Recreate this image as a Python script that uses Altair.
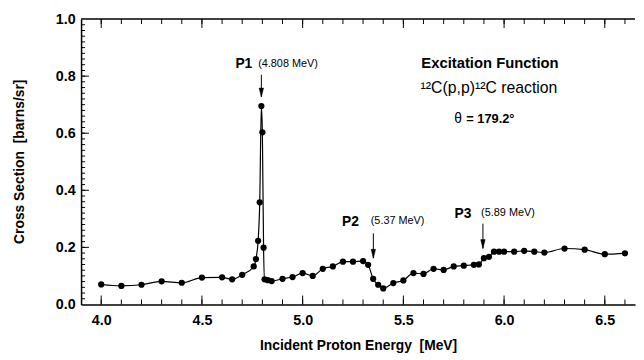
import altair as alt
import pandas as pd

FONT = "Liberation Sans"

# ---- data ----
energy = [4.00, 4.10, 4.20, 4.30, 4.40, 4.50, 4.60, 4.65, 4.70, 4.757,
          4.768, 4.779, 4.787, 4.795, 4.800, 4.806, 4.811, 4.827, 4.846, 4.90,
          4.95, 5.00, 5.05, 5.10, 5.15, 5.20, 5.25, 5.30, 5.325, 5.35,
          5.375, 5.40, 5.45, 5.50, 5.55, 5.60, 5.65, 5.70, 5.75, 5.80,
          5.85, 5.875, 5.90, 5.925, 5.95, 5.975, 6.00, 6.05, 6.10, 6.15,
          6.20, 6.30, 6.40, 6.50, 6.60]
cross = [0.070, 0.065, 0.069, 0.081, 0.076, 0.094, 0.095, 0.088, 0.104, 0.133,
         0.159, 0.223, 0.358, 0.695, 0.603, 0.199, 0.088, 0.085, 0.082, 0.090,
         0.096, 0.110, 0.100, 0.125, 0.133, 0.150, 0.150, 0.152, 0.139, 0.090,
         0.069, 0.056, 0.075, 0.084, 0.110, 0.107, 0.125, 0.121, 0.133, 0.136,
         0.139, 0.140, 0.162, 0.167, 0.185, 0.185, 0.185, 0.185, 0.188, 0.185,
         0.182, 0.196, 0.192, 0.176, 0.179]

x_label_values = [4.0, 4.5, 5.0, 5.5, 6.0, 6.5]
y_label_values = [0.0, 0.2, 0.4, 0.6, 0.8, 1.0]
x_minor_ticks = [round(4.0 + 0.1 * i, 2) for i in range(27)]
x_major_ticks = [4.0, 4.5, 5.0, 5.5, 6.0, 6.5]
y_minor_ticks = [round(0.02 * i, 2) for i in range(1, 50)]
y_major_ticks = [0.2, 0.4, 0.6, 0.8]

peak_names = ["P1", "P2", "P3"]
peak_notes = ["(4.808 MeV)", "(5.37 MeV)", "(5.89 MeV)"]
arrow_x = [4.795, 5.351, 5.895]
arrow_top = [0.805, 0.249, 0.283]
arrow_tip = [0.727, 0.162, 0.196]
name_x = [4.750, 5.279, 5.838]
name_y = [0.842, 0.287, 0.317]
note_x = [4.779, 5.338, 5.886]
note_y = [0.844, 0.291, 0.321]

title_lines = ["Excitation Function", "\u00b9\u00b2C(p,p)\u00b9\u00b2C reaction"]
title_x = [5.930, 5.925]
title_y = [0.845, 0.760]
theta_sym = "\u03b8"
theta_val = "= 179.2\u00b0"
theta_x = [5.772, 5.812]
theta_y = 0.649

W, H = 561, 289
xs = alt.Scale(domain=[3.9, 6.65], nice=False, zero=False)
ys = alt.Scale(domain=[0, 1], nice=False, zero=False)

df = pd.DataFrame({"energy": energy, "cs": cross})

x_axis = alt.Axis(values=x_label_values, format=".1f", ticks=False, tickSize=0, grid=False,
                  domainColor="black", domainWidth=1.5,
                  labelFont=FONT, labelFontSize=14.5, labelFontWeight="bold", labelColor="black",
                  labelPadding=9, labelFlush=False,
                  title="Incident Proton Energy\u00a0\u00a0[MeV]", titleFont=FONT, titleFontSize=14,
                  titleFontWeight="bold", titleColor="black", titleY=42, titleBaseline="middle")
y_axis = alt.Axis(values=y_label_values, format=".1f", ticks=False, tickSize=0, grid=False,
                  domainColor="black", domainWidth=1.5,
                  labelFont=FONT, labelFontSize=14.5, labelFontWeight="bold", labelColor="black",
                  labelPadding=6, labelFlush=False,
                  title="Cross Section\u00a0\u00a0[barns/sr]", titleFont=FONT, titleFontSize=14,
                  titleFontWeight="bold", titleColor="black", titleX=-62, titleY=144,
                  titleBaseline="middle")

line = alt.Chart(df).mark_line(color="black", strokeWidth=1.2, interpolate="monotone").encode(
    x=alt.X("energy:Q", scale=xs, axis=x_axis),
    y=alt.Y("cs:Q", scale=ys, axis=y_axis),
)
points = alt.Chart(df).mark_circle(color="black", size=40, opacity=1).encode(
    x=alt.X("energy:Q"),
    y=alt.Y("cs:Q"),
)

# inward ticks
def xticks(vals, length, top):
    d = pd.DataFrame({"v": vals})
    if top:
        yy, yy2 = alt.value(0), alt.value(length)
    else:
        yy, yy2 = alt.value(H), alt.value(H - length)
    return alt.Chart(d).mark_rule(color="black", strokeWidth=1).encode(
        x=alt.X("v:Q"), y=yy, y2=yy2)

def yticks(vals, length):
    d = pd.DataFrame({"v": vals})
    return alt.Chart(d).mark_rule(color="black", strokeWidth=1).encode(
        y=alt.Y("v:Q"), x=alt.value(0), x2=alt.value(length))

top_frame = alt.Chart(pd.DataFrame({"a": [0]})).mark_rule(color="black", strokeWidth=1.5).encode(
    x=alt.value(0), x2=alt.value(W), y=alt.value(0))

ticks = [xticks(x_minor_ticks, 5, False), xticks(x_major_ticks, 9, False),
         xticks(x_minor_ticks, 5, True), xticks(x_major_ticks, 9, True),
         yticks(y_minor_ticks, 4), yticks(y_major_ticks, 8)]

adf = pd.DataFrame({"name": peak_names, "note": peak_notes, "ax": arrow_x, "top": arrow_top,
                    "tip": arrow_tip, "nx": name_x, "ny": name_y, "tx": note_x, "ty": note_y})

arrow_lines = alt.Chart(adf).mark_rule(color="black", strokeWidth=1).encode(
    x=alt.X("ax:Q"), y=alt.Y("top:Q"), y2="tip:Q")
arrow_heads = alt.Chart(adf).mark_point(shape="M-0.5,-1L0.5,-1L0,1Z", filled=True, fill="black",
                                        stroke="black", strokeWidth=0.5, opacity=1, size=81,
                                        yOffset=-4.5).encode(
    x=alt.X("ax:Q"), y=alt.Y("tip:Q"))
names = alt.Chart(adf).mark_text(align="right", baseline="middle", font=FONT, fontSize=14,
                                 fontWeight="bold", color="black").encode(
    x=alt.X("nx:Q"), y=alt.Y("ny:Q"), text="name:N")
notes = alt.Chart(adf).mark_text(align="left", baseline="middle", font=FONT, fontSize=11,
                                 color="black").encode(
    x=alt.X("tx:Q"), y=alt.Y("ty:Q"), text="note:N")

tdf = pd.DataFrame({"t": title_lines, "x": title_x, "y": title_y})
title1 = alt.Chart(tdf.iloc[[0]]).mark_text(align="center", baseline="middle", font=FONT,
                                            fontSize=15, fontWeight="bold", color="black").encode(
    x=alt.X("x:Q"), y=alt.Y("y:Q"), text="t:N")
title2 = alt.Chart(tdf.iloc[[1]]).mark_text(align="center", baseline="middle", font=FONT,
                                            fontSize=16, color="black").encode(
    x=alt.X("x:Q"), y=alt.Y("y:Q"), text="t:N")

thdf = pd.DataFrame({"t": [theta_sym, theta_val], "x": theta_x, "y": [theta_y, theta_y]})
theta1 = alt.Chart(thdf.iloc[[0]]).mark_text(align="center", baseline="middle", font=FONT,
                                             fontSize=14, color="black").encode(
    x=alt.X("x:Q"), y=alt.Y("y:Q"), text="t:N")
theta2 = alt.Chart(thdf.iloc[[1]]).mark_text(align="left", baseline="middle", font=FONT,
                                             fontSize=13, fontWeight="bold", color="black").encode(
    x=alt.X("x:Q"), y=alt.Y("y:Q"), text="t:N")

chart = alt.layer(line, points, top_frame, *ticks, arrow_lines, arrow_heads, names, notes,
                  title1, title2, theta1, theta2).properties(
    width=W, height=H,
    padding={"left": 74, "top": 9, "right": 1, "bottom": 50},
    autosize=alt.AutoSizeParams(type="none"),
    background="white",
).configure_view(stroke=None)

chart.save("out.html", embed_options={"renderer": "svg", "actions": False})
